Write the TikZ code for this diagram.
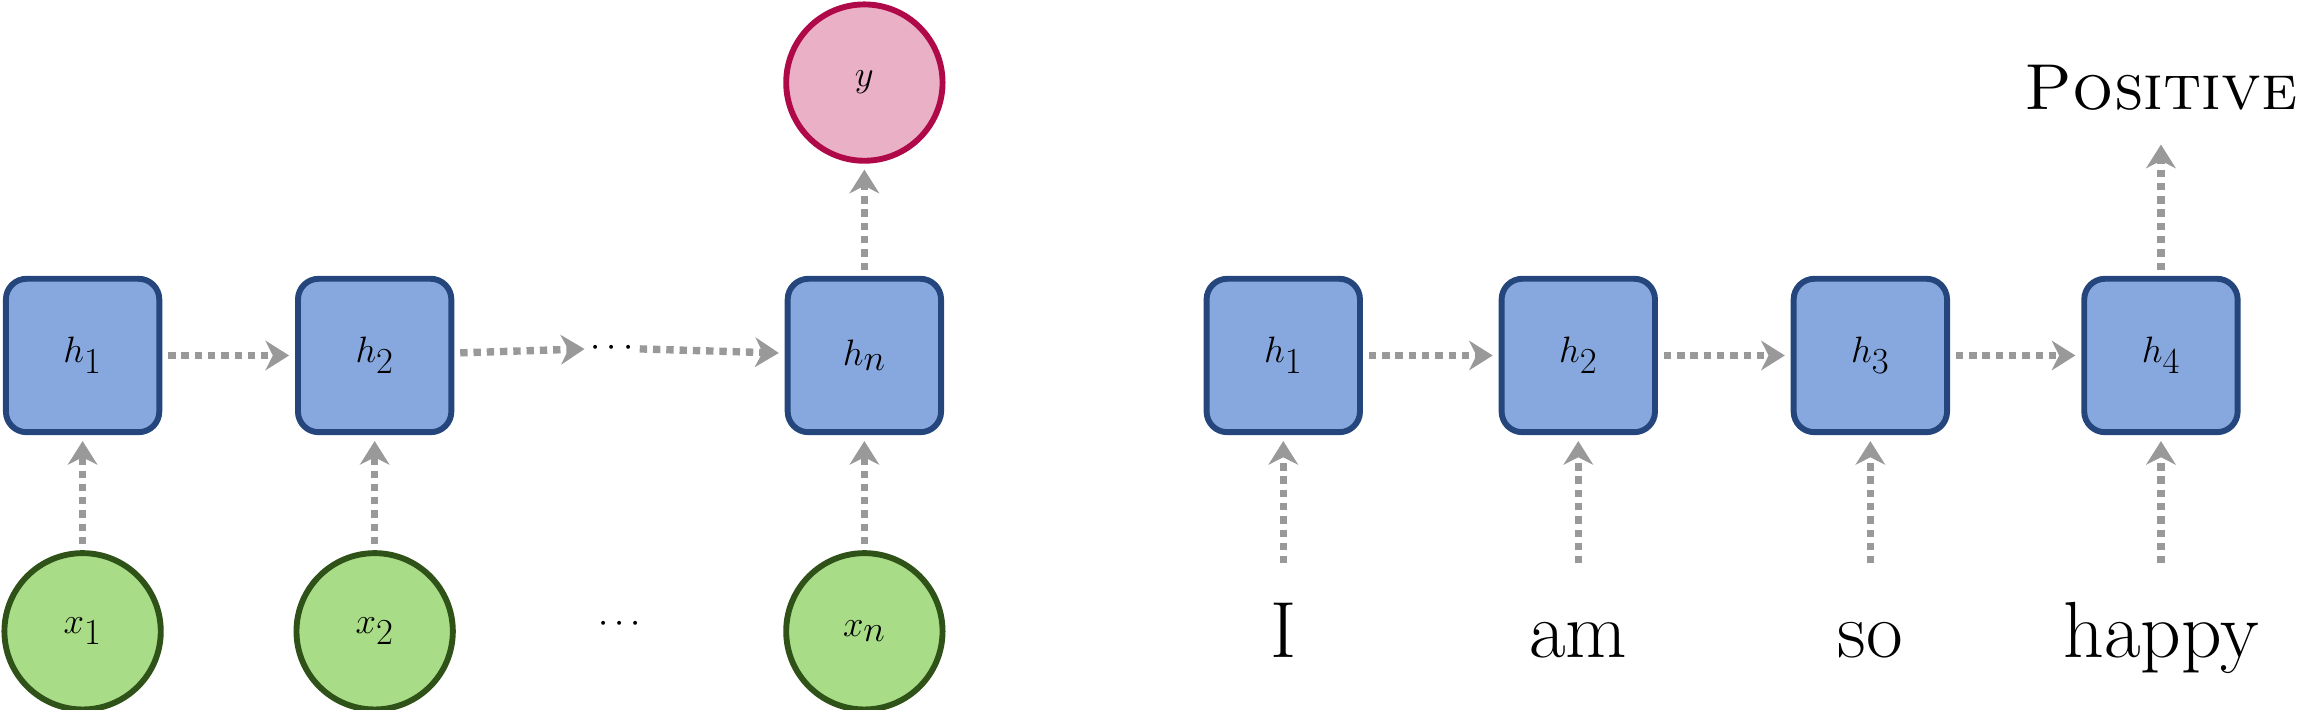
\documentclass[tikz,border=0pt]{standalone}
\usetikzlibrary{arrows.meta}
\definecolor{hfill}{HTML}{87A8DF}
\definecolor{hdraw}{HTML}{24467D}
\definecolor{xfill}{HTML}{A9DC87}
\definecolor{xdraw}{HTML}{2F5219}
\definecolor{yfill}{HTML}{EAB0C6}
\definecolor{ydraw}{HTML}{B0094A}
\definecolor{arr}{HTML}{999999}
\begin{document}
\begin{tikzpicture}[x=1pt,y=-1pt,
  hbox/.style={draw=hdraw,fill=hfill,line width=4pt,rounded corners=14pt,minimum size=104pt,inner sep=0pt,font=\fontsize{58}{60}\selectfont},
  xcirc/.style={circle,draw=xdraw,fill=xfill,line width=4pt,minimum size=106pt,inner sep=0pt,font=\fontsize{58}{60}\selectfont},
  ycirc/.style={circle,draw=ydraw,fill=yfill,line width=4pt,minimum size=106pt,inner sep=0pt,font=\fontsize{58}{60}\selectfont},
  word/.style={inner sep=0pt,font=\fontsize{54}{56}\selectfont},
  dotsn/.style={inner sep=0pt,font=\fontsize{54}{56}\selectfont},
  ar/.style={draw=arr,line width=5pt,dash pattern=on 5pt off 4pt,-{Stealth[length=16pt,width=20pt,inset=5pt]},shorten <=4pt,shorten >=4pt}]
\useasboundingbox (0,0) rectangle (1562,481);
% left
\node[hbox] (h1) at (56,241) {$h_1$};
\node[hbox] (h2) at (254,241) {$h_2$};
\node[dotsn] (d1) at (415,236) {$\cdots$};
\node[hbox] (hn) at (586,241) {$h_n$};
\node[ycirc] (y) at (586,56) {$y$};
\node[xcirc] (x1) at (56,428) {$x_1$};
\node[xcirc] (x2) at (254,428) {$x_2$};
\node[dotsn] (d2) at (420,423) {$\cdots$};
\node[xcirc] (xn) at (586,428) {$x_n$};
\draw[ar] (h1) -- (h2);
\draw[ar] (h2) -- (d1);
\draw[ar] (d1) -- (hn);
\draw[ar] (hn) -- (y);
\draw[ar] (x1) -- (h1);
\draw[ar] (x2) -- (h2);
\draw[ar] (xn) -- (hn);
% right
\node[hbox] (r1) at (870,241) {$h_1$};
\node[hbox] (r2) at (1070,241) {$h_2$};
\node[hbox] (r3) at (1268,241) {$h_3$};
\node[hbox] (r4) at (1465,241) {$h_4$};
\node[word,anchor=base] (w1) at (870,446) {I};
\node[word,anchor=base] (w2) at (1070,446) {am};
\node[word,anchor=base] (w3) at (1268,446) {so};
\node[word,anchor=base] (w4) at (1465,446) {happy};
\node[word,anchor=base,font=\fontsize{44}{46}\selectfont] (pos) at (1465,74) {\textsc{Positive}};
\coordinate (c1) at (870,382);
\coordinate (c2) at (1070,382);
\coordinate (c3) at (1268,382);
\coordinate (c4) at (1465,382);
\coordinate (cp) at (1465,98);
\draw[ar] (r1) -- (r2);
\draw[ar] (r2) -- (r3);
\draw[ar] (r3) -- (r4);
\draw[ar,shorten <=0pt] (c1) -- (r1);
\draw[ar,shorten <=0pt] (c2) -- (r2);
\draw[ar,shorten <=0pt] (c3) -- (r3);
\draw[ar,shorten <=0pt] (c4) -- (r4);
\draw[ar,shorten >=0pt] (r4) -- (cp);
\end{tikzpicture}
\end{document}
